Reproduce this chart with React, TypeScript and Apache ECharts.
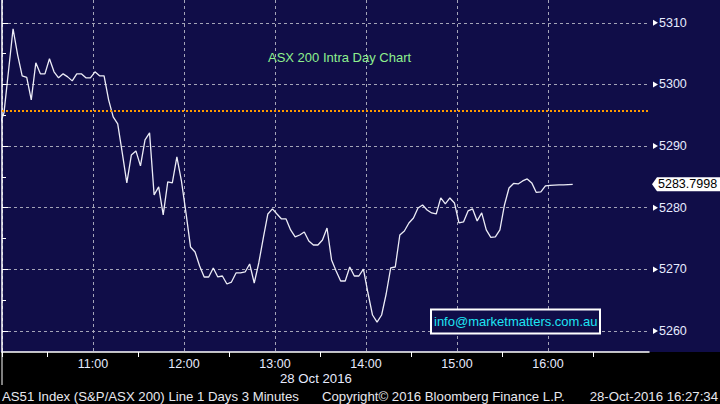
import React, { useEffect, useRef } from 'react';
import * as echarts from 'echarts';

// minutes after 10:00 of the first 3-minute bar, and bar spacing
const startMinute = -1.7;
const stepMinutes = 3;

const prices = [
  5293.28, 5295.39, 5302.21, 5309.03, 5304.81, 5301.40, 5301.15, 5297.50, 5303.51, 5301.72,
  5301.72, 5304.16, 5302.05, 5301.07, 5301.72, 5301.23, 5300.58, 5301.72, 5301.72, 5301.07,
  5301.07, 5302.05, 5301.40, 5301.40, 5297.50, 5294.74, 5293.60, 5288.90, 5284.03, 5288.57,
  5289.22, 5286.79, 5291.01, 5292.14, 5282.08, 5283.38, 5278.83, 5284.19, 5284.03, 5288.25,
  5284.35, 5279.16, 5273.64, 5272.82, 5270.55, 5268.77, 5268.77, 5270.23, 5268.77, 5268.93,
  5267.63, 5267.95, 5269.42, 5269.42, 5269.58, 5270.88, 5267.79, 5271.04, 5275.10, 5278.99,
  5279.81, 5278.99, 5278.18, 5278.18, 5276.40, 5275.26, 5275.58, 5276.07, 5274.61, 5273.96,
  5273.96, 5274.77, 5276.72, 5271.53, 5269.74, 5268.12, 5268.12, 5270.39, 5268.93, 5268.93,
  5270.06, 5266.17, 5262.60, 5261.46, 5262.60, 5266.01, 5270.23, 5270.39, 5275.58, 5276.23,
  5277.53, 5278.34, 5279.97, 5280.45, 5279.64, 5279.16, 5278.99, 5281.59, 5280.62, 5281.59,
  5280.78, 5277.53, 5277.69, 5279.48, 5279.81, 5277.86, 5279.16, 5276.40, 5275.18, 5275.26,
  5276.40, 5280.45, 5283.21, 5283.94, 5283.86, 5284.35, 5284.68, 5284.03, 5282.48, 5282.56,
  5283.54, 5283.62, 5283.66, 5283.70, 5283.72, 5283.76, 5283.7998,
];

const previousClose = 5295.67;

const xMinMinute = 0;
const xMaxMinute = 426.6;
const hourGridMinutes = [0, 60, 120, 180, 240, 300, 360];
const hourLabelMinutes = [60, 120, 180, 240, 300, 360];
const halfHourTickMinutes = [0, 30, 90, 150, 210, 270, 330, 390];

const yMin = 5256.6;
const yMax = 5313.7;
const priceTicks = [5260, 5270, 5280, 5290, 5300, 5310];
const priceMinorTicks = [5265, 5275, 5285, 5295, 5305];

const chartTitle = 'ASX 200 Intra Day Chart';
const dateLabel = '28 Oct 2016';
const footerLeft = 'AS51 Index (S&P/ASX 200) Line 1 Days 3 Minutes';
const footerMid = 'Copyright\u00a9 2016 Bloomberg Finance L.P.';
const footerRight = '28-Oct-2016 16:27:34';
const contact = 'info@marketmatters.com.au';

const FONT = '"Liberation Sans", Arial, sans-serif';
const NAVY = '#100d48';

export default function App() {
  const ref = useRef<HTMLDivElement>(null);

  useEffect(() => {
    document.body.style.margin = '0';
    if (!ref.current) return;
    const chart = echarts.init(ref.current, null, { renderer: 'svg' });

    const data = prices.map((p, i) => [startMinute + i * stepMinutes, p]);

    chart.setOption({
      animation: false,
      backgroundColor: 'transparent',
      grid: { left: 2, right: 71, top: 0, bottom: 52, containLabel: false },
      xAxis: [
        {
          type: 'value',
          min: xMinMinute,
          max: xMaxMinute,
          axisLine: { show: true, lineStyle: { color: '#ffffff', width: 1.5 } },
          axisTick: { show: false, customValues: hourGridMinutes },
          axisLabel: {
            customValues: hourLabelMinutes,
            formatter: (v: number) => `${10 + Math.round(v / 60)}:00`,
            color: '#e6ebff',
            fontFamily: FONT,
            fontSize: 12.5,
            margin: 5,
          },
          splitLine: { show: true, lineStyle: { color: '#a4a4b8', width: 1, type: [3, 3] } },
        },
        {
          type: 'value',
          min: xMinMinute,
          max: xMaxMinute,
          position: 'bottom',
          axisLine: { show: false },
          axisTick: { show: true, customValues: halfHourTickMinutes, length: 5, lineStyle: { color: '#ffffff', width: 1 } },
          axisLabel: { show: false },
          splitLine: { show: false },
        },
      ],
      yAxis: [
        {
          type: 'value',
          position: 'right',
          min: yMin,
          max: yMax,
          splitNumber: 6,
          axisLine: { show: true, lineStyle: { color: '#ffffff', width: 1.5 } },
          axisTick: { show: true, customValues: priceTicks, length: 6, lineStyle: { color: '#ffffff', width: 1 } },
          axisLabel: {
            customValues: priceTicks,
            formatter: (v: number) => String(v),
            color: '#e6ebff',
            fontFamily: FONT,
            fontSize: 12.5,
            margin: 10,
          },
          splitLine: { show: true, lineStyle: { color: '#a4a4b8', width: 1, type: [3, 3] } },
        },
        {
          type: 'value',
          position: 'right',
          min: yMin,
          max: yMax,
          axisLine: { show: false },
          axisTick: { show: true, customValues: priceMinorTicks, length: 4, lineStyle: { color: '#ffffff', width: 1 } },
          axisLabel: { show: false },
          splitLine: { show: false },
        },
      ],
      series: [
        {
          type: 'line',
          xAxisIndex: 0,
          yAxisIndex: 0,
          data,
          symbol: 'none',
          showSymbol: false,
          clip: true,
          lineStyle: { color: '#ececf6', width: 1.3 },
          markLine: {
            silent: true,
            symbol: ['none', 'none'],
            label: { show: false },
            lineStyle: { color: '#ff9900', width: 2, type: [2, 2] },
            data: [{ yAxis: previousClose }],
          },
        },
      ],
    });

    const yPx = (v: number) => chart.convertToPixel({ yAxisIndex: 0 }, v) as number;
    const xPx = (m: number) => chart.convertToPixel({ xAxisIndex: 0 }, m) as number;
    const axisX = xPx(xMaxMinute);
    const axisY = yPx(yMin);
    const last = prices[prices.length - 1];
    const lastY = yPx(last);

    const graphic: any[] = [];
    priceTicks.forEach((v, i) => {
      const y = yPx(v);
      graphic.push({
        type: 'polygon',
        id: 'arrow' + i,
        shape: { points: [[axisX + 4, y - 3], [axisX + 4, y + 3], [axisX + 9, y]] },
        style: { fill: '#ffffff' },
      });
    });
    graphic.push({
      type: 'polygon',
      id: 'lastTag',
      shape: {
        points: [
          [axisX + 3, lastY],
          [axisX + 8, lastY - 7],
          [720, lastY - 7],
          [720, lastY + 7],
          [axisX + 8, lastY + 7],
        ],
      },
      style: { fill: '#ffffff' },
      z: 10,
    });
    graphic.push({
      type: 'text',
      id: 'lastText',
      x: axisX + 9,
      y: lastY,
      style: {
        text: last.toFixed(4),
        fill: '#000000',
        font: `12.5px ${FONT}`,
        verticalAlign: 'middle',
        textVerticalAlign: 'middle',
      },
      z: 11,
    });
    graphic.push({
      type: 'text',
      id: 'title',
      x: 268,
      y: 57,
      style: { text: chartTitle, fill: '#8ef08e', font: `13px ${FONT}`, verticalAlign: 'middle', textVerticalAlign: 'middle' },
    });
    graphic.push({
      type: 'rect',
      id: 'infoBox',
      shape: { x: 431, y: 309.5, width: 169, height: 24 },
      style: { fill: NAVY, stroke: '#ffffff', lineWidth: 2 },
      z: 5,
    });
    graphic.push({
      type: 'text',
      id: 'infoText',
      x: 434,
      y: 321.5,
      style: { text: contact, fill: '#1ee4f4', font: `13px ${FONT}`, verticalAlign: 'middle', textVerticalAlign: 'middle' },
      z: 6,
    });
    graphic.push({
      type: 'line',
      id: 'daySep',
      shape: { x1: xPx(xMinMinute), y1: axisY, x2: xPx(xMinMinute), y2: 385 },
      style: { stroke: '#ffffff', lineWidth: 1 },
    });
    graphic.push({
      type: 'text',
      id: 'date',
      x: 280,
      y: 378,
      style: { text: dateLabel, fill: '#e6ebff', font: `13.2px ${FONT}`, verticalAlign: 'middle', textVerticalAlign: 'middle' },
    });
    graphic.push({
      type: 'text',
      id: 'footL',
      x: 2,
      y: 396,
      style: { text: footerLeft, fill: '#e8e8ee', font: `13.2px ${FONT}`, verticalAlign: 'middle', textVerticalAlign: 'middle' },
    });
    graphic.push({
      type: 'text',
      id: 'footM',
      x: 322,
      y: 396,
      style: { text: footerMid, fill: '#e8e8ee', font: `13.2px ${FONT}`, verticalAlign: 'middle', textVerticalAlign: 'middle' },
    });
    graphic.push({
      type: 'text',
      id: 'footR',
      x: 718,
      y: 396,
      style: {
        text: footerRight,
        fill: '#e8e8ee',
        font: `13.2px ${FONT}`,
        align: 'right',
        textAlign: 'right',
        verticalAlign: 'middle',
        textVerticalAlign: 'middle',
      },
    });

    chart.setOption({ graphic });

    return () => {
      chart.dispose();
    };
  }, []);

  return (
    <div
      ref={ref}
      style={{
        width: 720,
        height: 404,
        background: `linear-gradient(${NAVY} 0px, ${NAVY} 352px, #000000 352px, #000000 404px)`,
      }}
    />
  );
}
